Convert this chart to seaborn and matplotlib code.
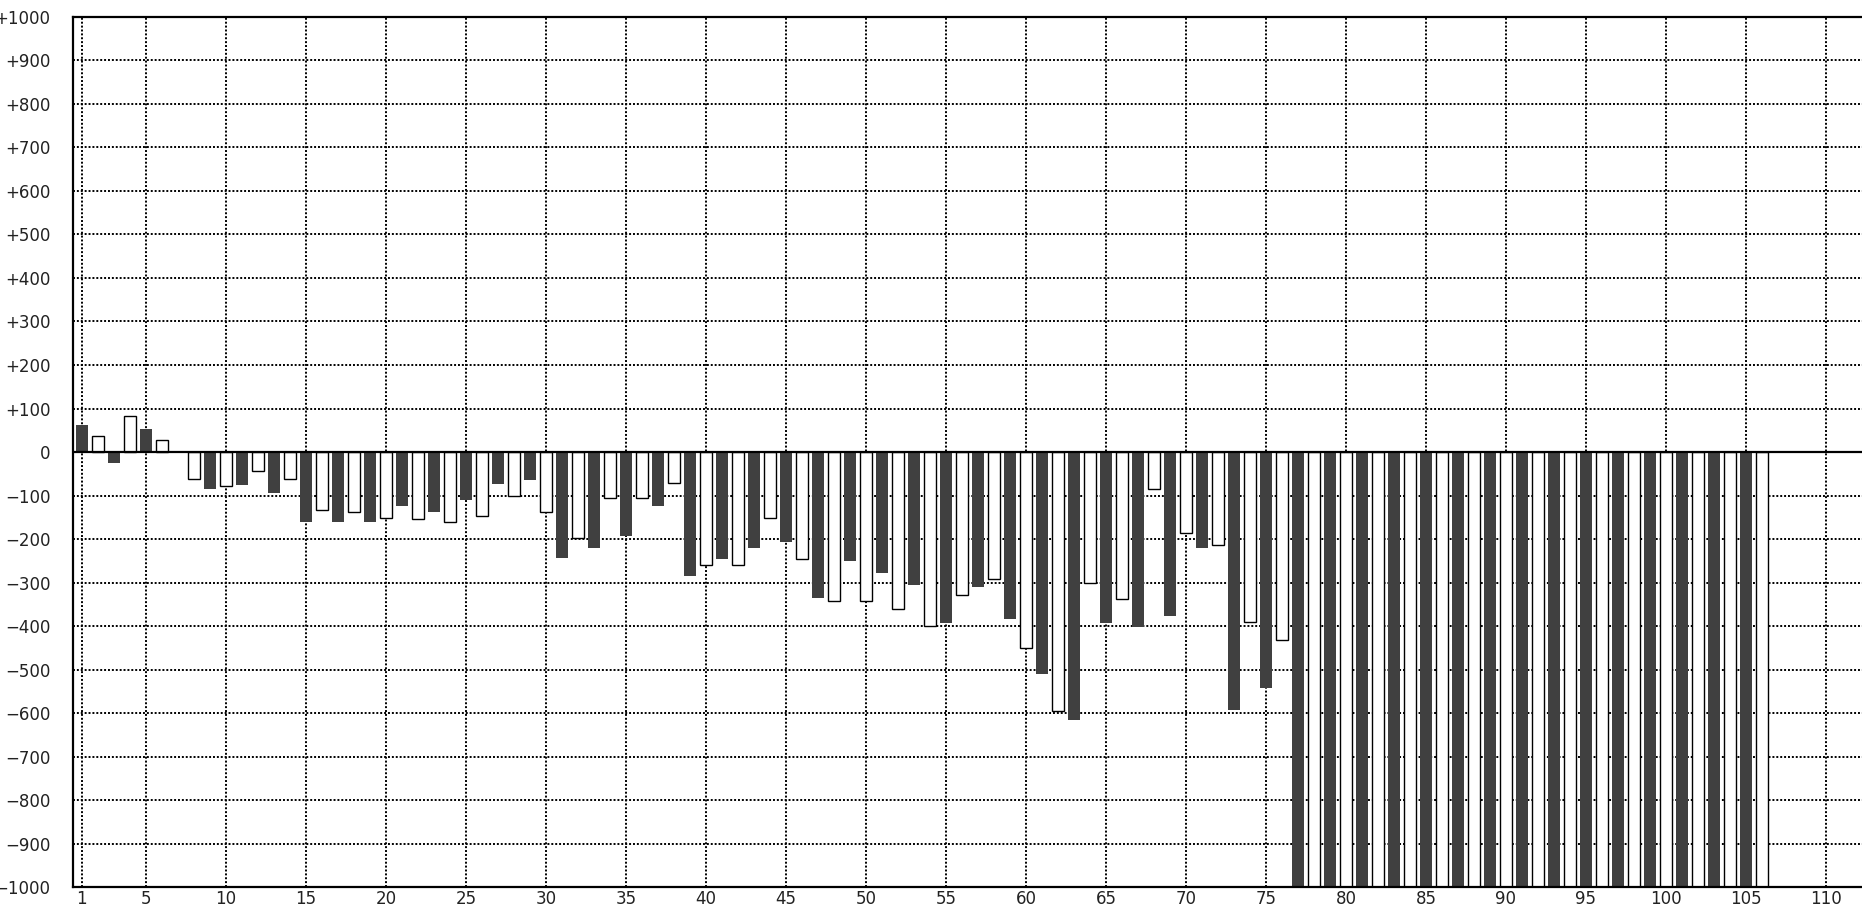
import numpy as np
import pandas as pd
import seaborn as sns
import matplotlib
matplotlib.use('Agg')
import matplotlib.pyplot as plt

# bar positions and values (bars 77..106 run past the bottom of the chart)
positions = list(range(1, 107))
values = [
    63, 37, -26, 82, 54, 28, 0, -63, -84, -78,
    -75, -44, -94, -63, -162, -134, -162, -138, -162, -152,
    -125, -155, -138, -160, -111, -146, -74, -100, -64, -138,
    -243, -198, -220, -105, -193, -105, -125, -72, -284, -260,
    -247, -260, -220, -152, -207, -246, -335, -343, -251, -343,
    -278, -362, -306, -400, -392, -329, -310, -291, -383, -450,
    -511, -595, -615, -300, -392, -338, -402, -86, -378, -187,
    -220, -214, -592, -390, -542, -432, -1000, -1000, -1000, -1000,
    -1000, -1000, -1000, -1000, -1000, -1000, -1000, -1000, -1000, -1000,
    -1000, -1000, -1000, -1000, -1000, -1000, -1000, -1000, -1000, -1000,
    -1000, -1000, -1000, -1000, -1000, -1000,
]
x_ticks = [1, 5, 10, 15, 20, 25, 30, 35, 40, 45, 50, 55,
           60, 65, 70, 75, 80, 85, 90, 95, 100, 105, 110]
y_ticks = list(range(-1000, 1001, 100))

sns.set_style('white')
plt.rcParams['font.family'] = ['DejaVu Sans']

df = pd.DataFrame({'x': positions, 'v': values})
dark = df[df['x'] % 2 == 1]
light = df[df['x'] % 2 == 0]

fig = plt.figure(figsize=(18.62, 9.08), dpi=100)
ax = fig.add_axes([0.0390, 0.0231, 0.9674, 0.9582])

sns.barplot(data=dark, x='x', y='v', native_scale=True, width=0.375,
            color='#404040', saturation=1, linewidth=0, errorbar=None, ax=ax)
sns.barplot(data=light, x='x', y='v', native_scale=True, width=0.375,
            color='white', edgecolor='black', linewidth=1.0, saturation=1,
            errorbar=None, ax=ax)

ax.set_xlim(0.42, 113)
ax.set_ylim(-1000, 1000)
ax.set_xticks(x_ticks)
ax.set_xticklabels([str(t) for t in x_ticks])
ax.set_yticks(y_ticks)
ax.set_yticklabels([('+%d' % t) if t > 0 else ('0' if t == 0 else '\u2212%d' % -t)
                    for t in y_ticks])
ax.tick_params(axis='both', length=0, labelsize=12, labelcolor='#222222')
ax.tick_params(axis='x', pad=2)
ax.tick_params(axis='y', pad=16)
ax.set_xlabel('')
ax.set_ylabel('')

ax.set_axisbelow(True)
ax.grid(True, color='black', linestyle=(0, (1, 1)), linewidth=1.4)
ax.axhline(0, color='black', linewidth=1.6, zorder=5)

for side in ['top', 'left', 'bottom', 'right']:
    ax.spines[side].set_color('black')
    ax.spines[side].set_linewidth(1.6)

fig.savefig('out.png', dpi=100)
